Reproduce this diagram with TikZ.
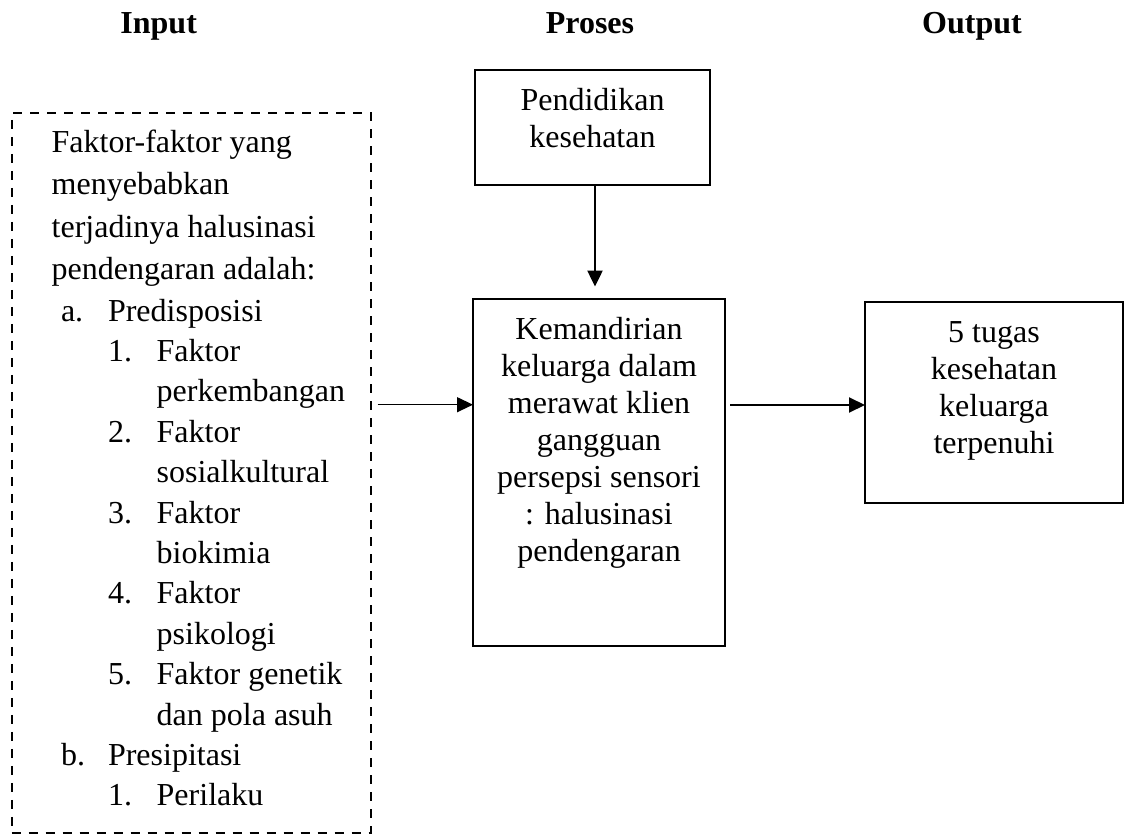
\documentclass[tikz,border=0pt]{standalone}
\usepackage{fontspec}
\setmainfont{Liberation Serif}
\usetikzlibrary{arrows.meta}
\begin{document}
\begin{tikzpicture}[x=1pt,y=-1pt,
  txt/.style={font=\fontsize{32}{37}\selectfont, inner sep=0pt, outer sep=0pt, anchor=base},
  ltxt/.style={font=\fontsize{32}{37}\selectfont, inner sep=0pt, outer sep=0pt, anchor=base west},
  hdr/.style={font=\fontsize{32}{37}\selectfont\bfseries, inner sep=0pt, outer sep=0pt, anchor=base},
  box/.style={draw, line width=2pt, rectangle, inner sep=0pt, outer sep=0pt},
  dbox/.style={draw, line width=2pt, dash pattern=on 9pt off 8pt, rectangle, inner sep=0pt, outer sep=0pt},
  arr/.style={-{Triangle[length=16pt,width=15pt]}}]
\useasboundingbox (0,0) rectangle (1128,835);

% headers
\node[hdr] (hin) at (158.7,33.5) {Input};
\node[hdr] (hpr) at (590,33.5) {Proses};
\node[hdr] (hout) at (972,33.5) {Output};

% boxes
\node[dbox, minimum width=358.8pt, minimum height=720.3pt] (inbox) at (191.1,472.85) {};
\node[box, minimum width=235pt, minimum height=115pt] (pend) at (592.5,127.5) {};
\node[box, minimum width=252pt, minimum height=347pt] (kem) at (599,472.5) {};
\node[box, minimum width=258pt, minimum height=200.5pt] (out) at (994,402.25) {};

% input text
\node[ltxt] (i1) at (51.7,152.2) {Faktor-faktor yang};
\node[ltxt] (i2) at (51.7,194.6) {menyebabkan};
\node[ltxt] (i3) at (51.7,237) {terjadinya halusinasi};
\node[ltxt] (i4) at (51.7,279.4) {pendengaran adalah:};
\node[ltxt] (la) at (61,321) {a.};
\node[ltxt] (ta) at (108,321) {Predisposisi};
\node[ltxt] (l1) at (108,361.4) {1.};
\node[ltxt] (t1a) at (156.7,361.4) {Faktor};
\node[ltxt] (t1b) at (156.7,401.8) {perkembangan};
\node[ltxt] (l2) at (108,442.2) {2.};
\node[ltxt] (t2a) at (156.7,442.2) {Faktor};
\node[ltxt] (t2b) at (156.7,482.6) {sosialkultural};
\node[ltxt] (l3) at (108,523) {3.};
\node[ltxt] (t3a) at (156.7,523) {Faktor};
\node[ltxt] (t3b) at (156.7,563.4) {biokimia};
\node[ltxt] (l4) at (108,603.8) {4.};
\node[ltxt] (t4a) at (156.7,603.8) {Faktor};
\node[ltxt] (t4b) at (156.7,644.2) {psikologi};
\node[ltxt] (l5) at (108,684.6) {5.};
\node[ltxt] (t5a) at (156.7,684.6) {Faktor genetik};
\node[ltxt] (t5b) at (156.7,725) {dan pola asuh};
\node[ltxt] (lb) at (61,765.4) {b.};
\node[ltxt] (tb) at (108,765.4) {Presipitasi};
\node[ltxt] (lb1) at (108,805.8) {1.};
\node[ltxt] (tb1) at (156.7,805.8) {Perilaku};

% pendidikan text
\node[txt] (p1) at (592.5,110) {Pendidikan};
\node[txt] (p2) at (592.5,147) {kesehatan};

% kemandirian text
\node[txt] (k1) at (599,339.3) {Kemandirian};
\node[txt] (k2) at (599,376.3) {keluarga dalam};
\node[txt] (k3) at (599,413.3) {merawat klien};
\node[txt] (k4) at (599,450.3) {gangguan};
\node[txt] (k5) at (599,487.3) {persepsi sensori};
\node[txt] (k6) at (599,524.3) {: halusinasi};
\node[txt] (k7) at (599,561.3) {pendengaran};

% output text
\node[txt] (o1) at (994,342.7) {5 tugas};
\node[txt] (o2) at (994,379.7) {kesehatan};
\node[txt] (o3) at (994,416.7) {keluarga};
\node[txt] (o4) at (994,453.7) {terpenuhi};

% connectors
\coordinate (a1s) at (377.7,404.7);
\coordinate (a2s) at (730,405);
\draw[arr, line width=1.3pt] (a1s) -- (a1s -| kem.west);
\draw[arr, line width=2.5pt] ([xshift=2.5pt]pend.south) -- ([xshift=-4pt,yshift=12.5pt]kem.north);
\draw[arr, line width=2pt] (a2s) -- (a2s -| out.west);
\end{tikzpicture}
\end{document}
